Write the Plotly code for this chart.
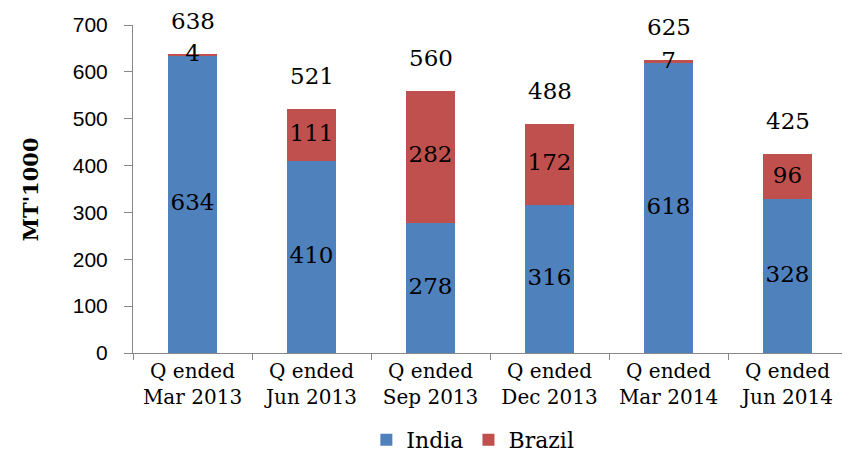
import plotly.graph_objects as go

quarters = ['Q ended<br>Mar 2013', 'Q ended<br>Jun 2013', 'Q ended<br>Sep 2013',
            'Q ended<br>Dec 2013', 'Q ended<br>Mar 2014', 'Q ended<br>Jun 2014']
india = [634, 410, 278, 316, 618, 328]
brazil = [4, 111, 282, 172, 7, 96]
totals = [638, 521, 560, 488, 625, 425]

serif = 'DejaVu Serif'
sans = 'Liberation Sans'
label_font = dict(family=serif, size=23, color='black')

fig = go.Figure()
fig.add_trace(go.Bar(x=quarters, y=india, name='India', marker_color='#4F81BD',
                     marker_line_width=0, textposition='none'))
fig.add_trace(go.Bar(x=quarters, y=brazil, name='Brazil', marker_color='#C0504D',
                     marker_line_width=0, textposition='none'))

# segment labels, centered in each piece
fig.add_trace(go.Scatter(x=quarters, y=[v / 2 for v in india], text=india,
                         mode='text', textfont=label_font, showlegend=False,
                         hoverinfo='skip'))
fig.add_trace(go.Scatter(x=quarters, y=[a + b / 2 for a, b in zip(india, brazil)],
                         text=brazil, mode='text', textfont=label_font,
                         showlegend=False, hoverinfo='skip'))

# totals above bars
for q, t in zip(quarters, totals):
    fig.add_annotation(x=q, y=t, text=str(t), showarrow=False, yshift=33,
                       font=label_font)

fig.add_annotation(text="<b>MT'1000</b>", x=-0.144, y=0.5, xref='paper', yref='paper',
                   xanchor='center', yanchor='middle',
                   textangle=-90, showarrow=False,
                   font=dict(family=serif, size=21, color='black'))

# page body adds an 8px margin, so the figure is a bit smaller than the window
fig.update_layout(
    barmode='stack',
    bargap=0.58,
    width=842,
    height=447,
    plot_bgcolor='white',
    paper_bgcolor='white',
    margin=dict(l=125, r=3, t=17, b=102, autoexpand=False),
    legend=dict(orientation='h', x=0.476, xanchor='center', y=-0.265, yanchor='middle',
                font=dict(family=serif, size=22, color='black'),
                itemwidth=30, traceorder='normal'),
)
fig.update_xaxes(
    automargin=False,
    showline=True, linecolor='#888888', linewidth=1,
    ticks='outside', tickson='boundaries', tickcolor='#888888', ticklen=6,
    tickfont=dict(family=serif, size=20, color='black'),
    showgrid=False,
)
fig.update_yaxes(
    automargin=False,
    range=[0, 700], dtick=100,
    showline=True, linecolor='#888888', linewidth=1,
    ticks='outside', tickcolor='#888888', ticklen=8, ticklabelstandoff=12,
    tickfont=dict(family=sans, size=21, color='black'),
    showgrid=False, zeroline=False,
)

fig.write_html('out.html')
